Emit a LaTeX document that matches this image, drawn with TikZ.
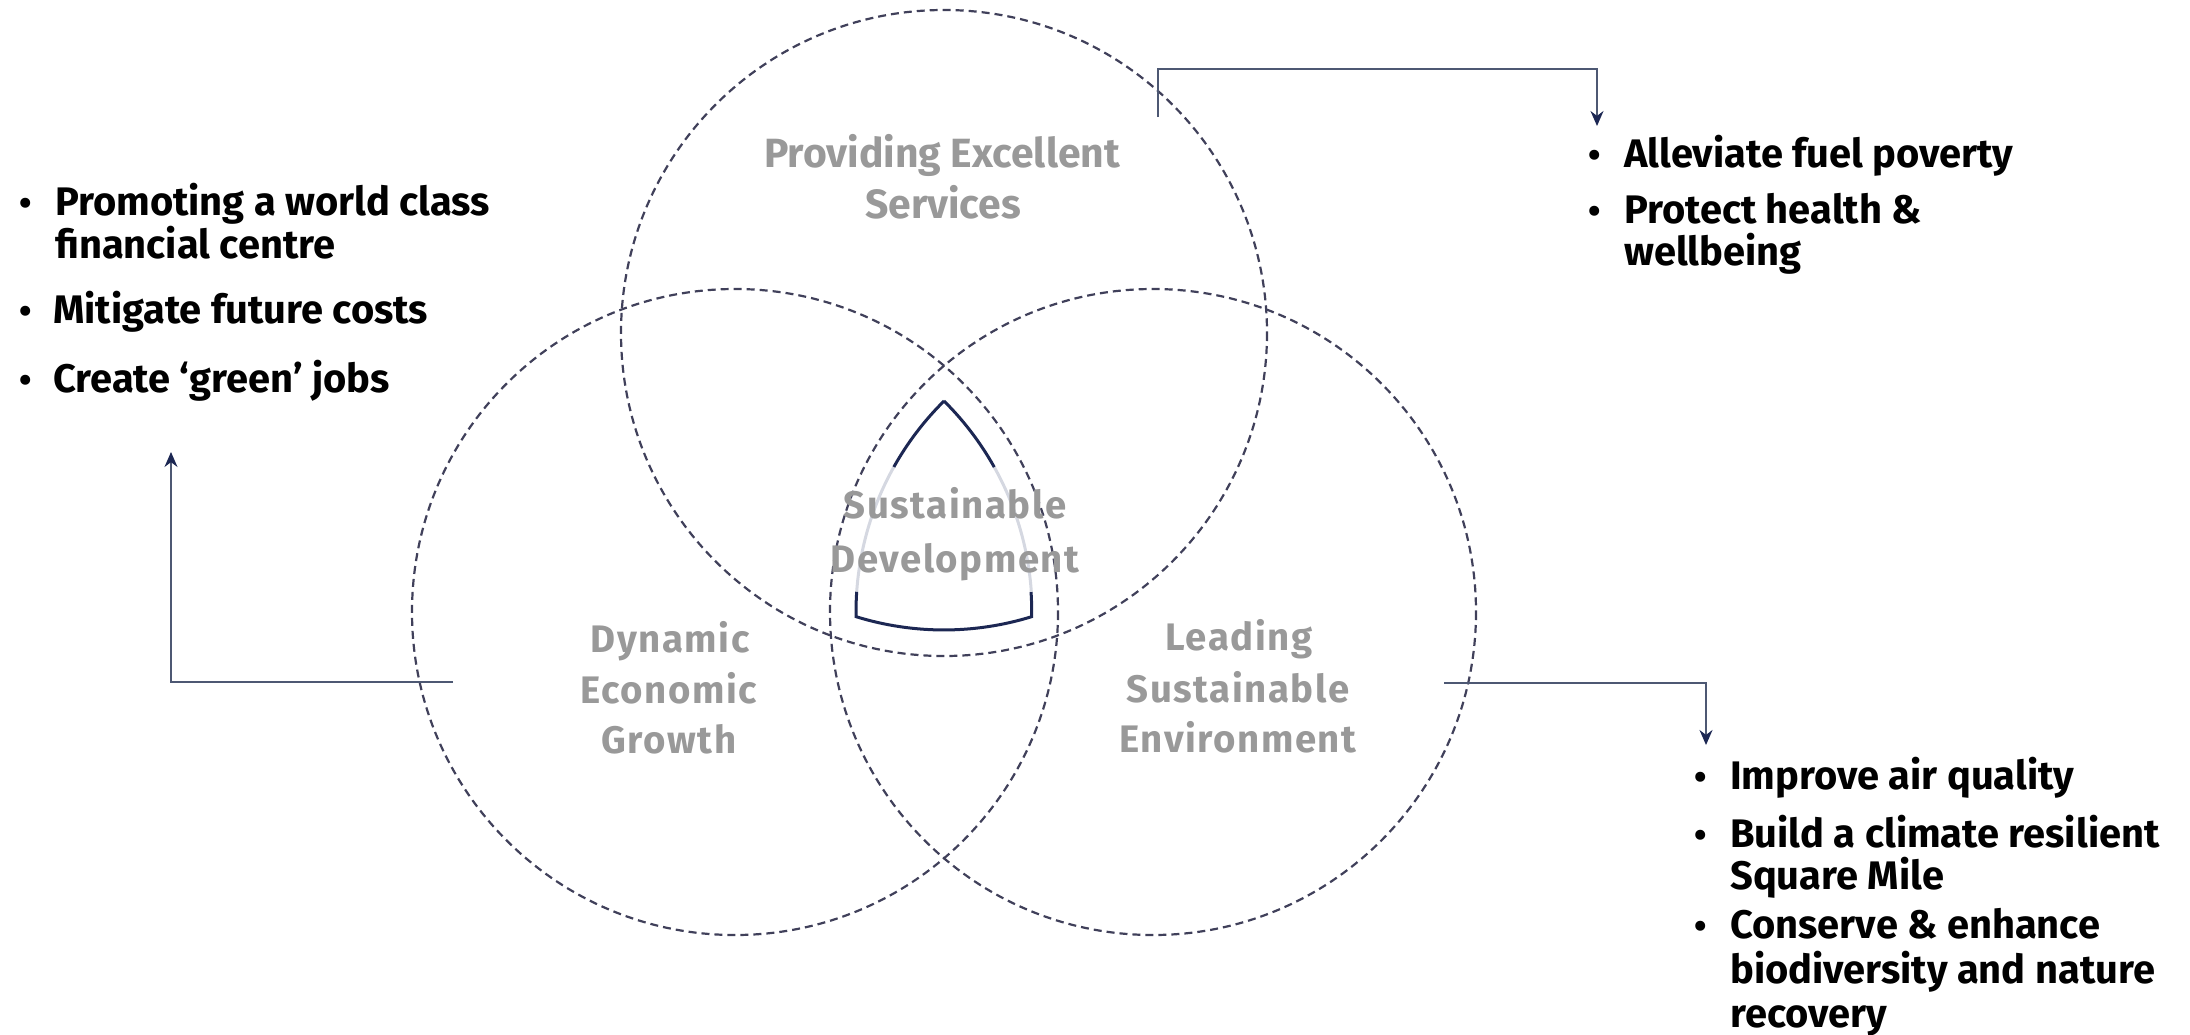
\documentclass[tikz,border=0pt]{standalone}
\usepackage{fontspec}
\setmainfont{Fira Sans}
\newfontfamily\widef{Fira Sans}[LetterSpace=4]
\usetikzlibrary{arrows.meta}
\definecolor{dashcol}{HTML}{40405A}
\definecolor{arrowcol}{HTML}{4D5873}
\definecolor{navy}{HTML}{1C2753}
\definecolor{labelgray}{HTML}{999999}
\definecolor{lightarc}{HTML}{D5D8E1}
\tikzset{
  venn/.style={draw=dashcol, line width=2.2bp, dash pattern=on 8bp off 5bp},
  navyline/.style={draw=navy, line width=3bp, line join=miter, line cap=butt},
  lightline/.style={draw=lightarc, line width=3bp},
  connector/.style={draw=arrowcol, line width=1.6bp, -{Stealth[length=15bp,width=13bp,color=navy]}},
  item/.style={inner sep=0pt, anchor=base west, font=\bfseries\fontsize{40}{48}\selectfont, text=black},
  bul/.style={inner sep=0pt, anchor=base, font=\bfseries\fontsize{36}{43}\selectfont, text=black},
  glabel/.style={inner sep=0pt, anchor=base, font=\bfseries\fontsize{41}{49}\selectfont, text=labelgray},
  wlabel/.style={inner sep=0pt, anchor=base, font=\widef\bfseries\fontsize{38.5}{46}\selectfont, text=labelgray}
}
\begin{document}
\begin{tikzpicture}[x=1bp, y=-1bp]
\useasboundingbox (0,0) rectangle (2190,1034);
% circle centres
\coordinate (cT) at (944,333);
\coordinate (cL) at (735,612);
\coordinate (cR) at (1153,612);
% dashed Venn circles
\draw[venn] (cT) circle[radius=323];
\draw[venn] (cL) circle[radius=323];
\draw[venn] (cR) circle[radius=323];
% central curved triangle
\draw[navyline] ([shift={(225.3:297)}]cR) arc[start angle=225.3, end angle=209.2, radius=297];
\draw[lightline] ([shift={(209.2:297)}]cR) arc[start angle=209.2, end angle=183.9, radius=297];
\draw[navyline] ([shift={(183.9:297)}]cR) arc[start angle=183.9, end angle=179.1, radius=297]
  arc[start angle=107.2, end angle=72.8, radius=297]
  arc[start angle=0.9, end angle=-3.9, radius=297];
\draw[lightline] ([shift={(-3.9:297)}]cL) arc[start angle=-3.9, end angle=-29.2, radius=297];
\draw[navyline] ([shift={(-29.2:297)}]cL) arc[start angle=-29.2, end angle=-45.3, radius=297];
% circle labels
\node[glabel] (pe1) at (942,167) {Providing Excellent};
\node[glabel] (pe2) at (943,218) {Services};
\node[wlabel] (dg1) at (670,652) {Dynamic};
\node[wlabel] (dg2) at (669,703) {Economic};
\node[wlabel] (dg3) at (669,753) {Growth};
\node[wlabel] (le1) at (1239,650) {Leading};
\node[wlabel] (le2) at (1238,702) {Sustainable};
\node[wlabel] (le3) at (1238,752) {Environment};
\node[wlabel] (sd1) at (955,518) {Sustainable};
\node[wlabel] (sd2) at (955,572) {Development};
% left list
\node[bul] (lb1) at (26,215) {•};
\node[item] (l1a) at (55,215) {Promoting a world class};
\node[item] (l1b) at (55,258) {financial centre};
\node[bul] (lb2) at (26,323) {•};
\node[item] (l2) at (53,323) {Mitigate future costs};
\node[bul] (lb3) at (26,392) {•};
\node[item] (l3) at (53,392) {Create ‘green’ jobs};
% right top list
\node[bul] (tb1) at (1595,167) {•};
\node[item] (t1) at (1624,167) {Alleviate fuel poverty};
\node[bul] (tb2) at (1595,223) {•};
\node[item] (t2a) at (1624,223) {Protect health \&};
\node[item] (t2b) at (1624,265) {wellbeing};
% right bottom list
\node[bul] (rb1) at (1701,789) {•};
\node[item] (r1) at (1730,789) {Improve air quality};
\node[bul] (rb2) at (1701,847) {•};
\node[item] (r2a) at (1730,847) {Build a climate resilient};
\node[item] (r2b) at (1730,889) {Square Mile};
\node[bul] (rb3) at (1701,938) {•};
\node[item] (r3a) at (1730,938) {Conserve \& enhance};
\node[item] (r3b) at (1730,983) {biodiversity and nature};
\node[item] (r3c) at (1730,1027) {recovery};
% connectors
\coordinate (a1s) at (1158,117);
\coordinate (a1c) at (1597,69);
\coordinate (a1e) at (1597,126);
\draw[connector] (a1s) |- (a1c) -- (a1e);
\coordinate (a2s) at (453,682);
\coordinate (a2c) at (171,682);
\coordinate (a2e) at (171,452);
\draw[connector] (a2s) -- (a2c) -- (a2e);
\coordinate (a3s) at (1444,683);
\coordinate (a3c) at (1706,683);
\coordinate (a3e) at (1706,745);
\draw[connector] (a3s) -- (a3c) -- (a3e);
\end{tikzpicture}
\end{document}
